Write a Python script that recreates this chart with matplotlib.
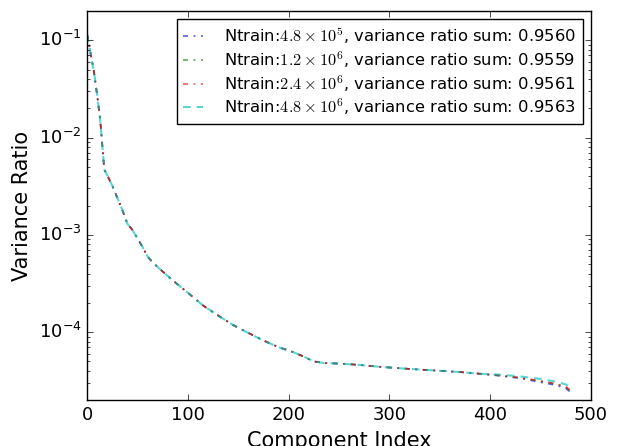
import matplotlib
matplotlib.use("Agg")
import matplotlib.pyplot as plt

plt.style.use("classic")
plt.rcParams["lines.scale_dashes"] = False

# component index and variance ratio
idx_head = [0, 2, 4, 7, 10, 13, 15, 17, 20, 25, 30, 35, 40, 45, 50, 55, 60, 65,
            75, 85, 95, 105, 115, 130, 145, 160, 175, 190, 205, 215, 225, 235,
            250, 270, 290, 310, 330, 350, 370, 390]
ratio_head = [0.115, 0.09, 0.068, 0.046, 0.027, 0.015, 0.0085, 0.0047, 0.0041,
              0.0032, 0.0024, 0.0018, 0.0013, 0.00112, 0.00092, 0.00075, 0.00060,
              0.00052, 0.00042, 0.00034, 0.00028, 0.00023, 0.000188, 0.000148,
              0.000118, 0.000098, 0.000082, 0.000070, 0.000062, 0.000056,
              0.000050, 0.000048, 0.0000475, 0.000046, 0.0000440, 0.0000425,
              0.0000412, 0.0000400, 0.0000388, 0.0000373]
idx_tail = [410, 430, 450, 465, 475, 479]
tail_a = [3.55e-5, 3.35e-5, 3.05e-5, 2.85e-5, 2.65e-5, 2.45e-5]
tail_b = [3.57e-5, 3.38e-5, 3.12e-5, 2.92e-5, 2.72e-5, 2.52e-5]
tail_c = [3.58e-5, 3.40e-5, 3.15e-5, 2.95e-5, 2.76e-5, 2.56e-5]
tail_d = [3.65e-5, 3.50e-5, 3.30e-5, 3.10e-5, 2.90e-5, 2.75e-5]

labels = [r"Ntrain:$4.8\times10^{5}$, variance ratio sum: 0.9560",
          r"Ntrain:$1.2\times10^{6}$, variance ratio sum: 0.9559",
          r"Ntrain:$2.4\times10^{6}$, variance ratio sum: 0.9561",
          r"Ntrain:$4.8\times10^{6}$, variance ratio sum: 0.9563"]
tails = [tail_a, tail_b, tail_c, tail_d]
dashdot = (0, (3.6, 4.0, 1.4, 4.0))
dashed = (0, (5.5, 4.3))
styles = [("b", dashdot, 1.2), ("g", dashdot, 1.2), ("r", dashdot, 1.2), ("c", dashed, 1.5)]

fig = plt.figure(figsize=(6.18, 4.46), dpi=100, facecolor="white")
ax = fig.add_axes([0.141, 0.103, 0.815, 0.872])
x = idx_head + idx_tail
for lab, tail, (c, ls, lw) in zip(labels, tails, styles):
    ax.plot(x, ratio_head + tail, color=c, linestyle=ls, lw=lw, alpha=0.65, label=lab)

ax.set_yscale("log")
ax.set_xlim(0, 500)
ax.set_ylim(2e-5, 0.2)
ax.set_xlabel("Component Index", fontsize=15)
ax.set_ylabel("Variance Ratio", fontsize=15)
ax.tick_params(labelsize=13)
ax.legend(loc="upper right", fontsize=11.8, numpoints=1, labelspacing=0.2,
          handlelength=1.2, handletextpad=1.3, borderaxespad=0.5)
fig.savefig("out.png", dpi=100, facecolor="white")
